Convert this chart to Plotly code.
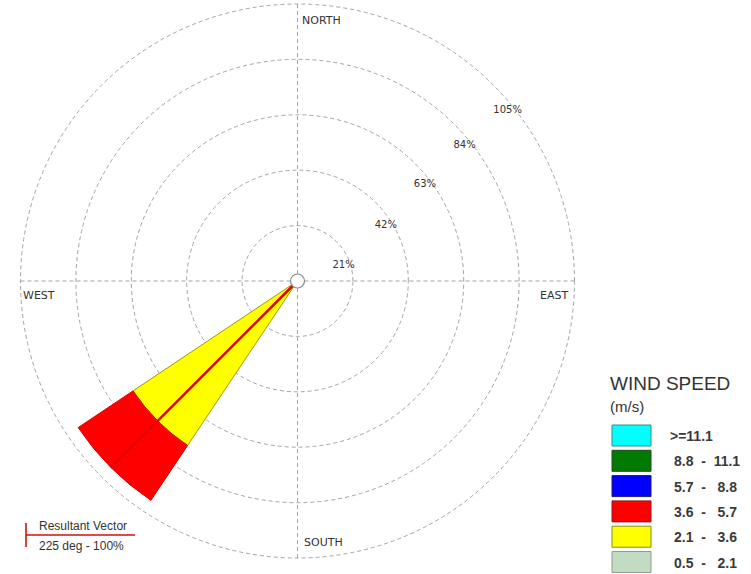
import plotly.graph_objects as go

# ---- data ----
directions = [225]                 # compass bearing of the only occupied sector (deg)
sector_width = 22.5                # 16-point wind rose sector width (deg)
speed_bins = [">=11.1", "8.8 - 11.1", "5.7 -  8.8", "3.6 -  5.7", "2.1 -  3.6", "0.5 -  2.1"]
bin_colors = ["#00FFFF", "#007A00", "#0000FF", "#FF0000", "#FFFF00", "#C2DCC4"]
bin_edges_colors = ["#3a8a8a", "#1e4a1e", "#1a1a7a", "#8a1a1a", "#8a8a1a", "#8aa08a"]
freq_2_1_3_6 = [75]                # % frequency, 2.1-3.6 m/s
freq_3_6_5_7 = [25]                # % frequency, 3.6-5.7 m/s
ring_values = [21, 42, 63, 84, 105]
ring_labels = ["21%", "42%", "63%", "84%", "105%"]
ring_label_theta = [71, 58, 53, 51, 51]
resultant_dir = 225
resultant_pct = 100
compass_labels = ["NORTH", "EAST", "SOUTH", "WEST"]

W, H = 751, 574
def px(x):
    return x / W
def py(y):
    return 1 - y / H

FONT = "Liberation Sans, Arial, sans-serif"
WIDE = "DejaVu Sans, Liberation Sans, sans-serif"
NARROW = "Liberation Sans Narrow, Liberation Sans, Arial, sans-serif"
GRID = "#a3a3ab"

fig = go.Figure()

# stacked petals (inner speed class first)
fig.add_trace(go.Barpolar(
    r=freq_2_1_3_6, theta=directions, width=[sector_width],
    marker=dict(color=bin_colors[4], line=dict(color="#9a9a10", width=1)),
    showlegend=False, hoverinfo="skip"))
fig.add_trace(go.Barpolar(
    r=freq_3_6_5_7, theta=directions, width=[sector_width],
    marker=dict(color=bin_colors[3], line=dict(color="#e00000", width=1)),
    showlegend=False, hoverinfo="skip"))

# resultant vector
fig.add_trace(go.Scatterpolar(
    r=[0, resultant_pct], theta=[resultant_dir, resultant_dir], mode="lines",
    line=dict(color="#e80000", width=2.5), showlegend=False, hoverinfo="skip"))

# calm circle at the origin
fig.add_trace(go.Scatterpolar(
    r=[0], theta=[0], mode="markers",
    marker=dict(size=14, color="white", line=dict(color="#8a8a8a", width=1.2)),
    showlegend=False, hoverinfo="skip"))

# ring percentage labels, just inside each ring
fig.add_trace(go.Scatterpolar(
    r=[v - 2.5 for v in ring_values], theta=ring_label_theta, mode="text",
    text=ring_labels, textfont=dict(family=WIDE, size=10, color="#333333"),
    showlegend=False, hoverinfo="skip"))

# polar frame: centre (297.5, 281) px, 105 % ring radius 277 px
R = 277 * 105.5 / 105
cx, cy = 297.5, 281
fig.update_layout(
    width=W, height=H,
    margin=dict(l=0, r=0, t=0, b=0),
    paper_bgcolor="white", plot_bgcolor="white",
    polar=dict(
        domain=dict(x=[px(cx - R), px(cx + R)], y=[py(cy + R), py(cy - R)]),
        bgcolor="white",
        barmode="stack",
        radialaxis=dict(range=[0, 105.5], tickvals=ring_values, showticklabels=False,
                        ticks="", showline=False, gridcolor=GRID, gridwidth=1,
                        griddash="4px,3px"),
        angularaxis=dict(direction="clockwise", rotation=90,
                         tickvals=[0, 90, 180, 270], showticklabels=False, ticks="",
                         showline=False, gridcolor=GRID, gridwidth=1,
                         griddash="4px,3px"),
    ),
)

ann = []
# compass labels
for txt, (x, y) in zip(compass_labels, [(300, 20), (538, 295), (302, 542), (21, 295)]):
    ann.append(dict(x=px(x), y=py(y), xref="paper", yref="paper", text=txt,
                    showarrow=False, xanchor="left", yanchor="middle",
                    font=dict(family=WIDE, size=11, color="#333333")))

# speed legend
ann.append(dict(x=px(608), y=py(383), xref="paper", yref="paper", text="WIND SPEED",
                showarrow=False, xanchor="left", yanchor="middle",
                font=dict(family=FONT, size=19, color="#333333")))
ann.append(dict(x=px(608), y=py(406), xref="paper", yref="paper", text="(m/s)",
                showarrow=False, xanchor="left", yanchor="middle",
                font=dict(family=FONT, size=15, color="#333333")))
shapes = []
for i, (lab, col, edge) in enumerate(zip(speed_bins, bin_colors, bin_edges_colors)):
    top = 425 + i * 25.3
    shapes.append(dict(type="rect", xref="paper", yref="paper",
                       x0=px(612), x1=px(651), y0=py(top + 21), y1=py(top),
                       fillcolor=col, line=dict(color=edge, width=1)))
    shown = lab.replace(" - ", "  -  ").replace(" ", "&nbsp;")
    ann.append(dict(x=px(668 if i == 0 else 672), y=py(top + 11), xref="paper", yref="paper",
                    text="<b>" + shown + "</b>", showarrow=False,
                    xanchor="left", yanchor="middle",
                    font=dict(family=FONT, size=14, color="#3a3a3a")))

# resultant vector key
shapes.append(dict(type="line", xref="paper", yref="paper",
                   x0=px(26), x1=px(135), y0=py(535), y1=py(535),
                   line=dict(color="#d01010", width=1.6)))
shapes.append(dict(type="line", xref="paper", yref="paper",
                   x0=px(26), x1=px(26), y0=py(523), y1=py(547),
                   line=dict(color="#d01010", width=1.6)))
ann.append(dict(x=px(37), y=py(526), xref="paper", yref="paper", text="Resultant Vector",
                showarrow=False, xanchor="left", yanchor="middle",
                font=dict(family=NARROW, size=12, color="#333333")))
ann.append(dict(x=px(37), y=py(546), xref="paper", yref="paper",
                text=f"{resultant_dir} deg - {resultant_pct}%",
                showarrow=False, xanchor="left", yanchor="middle",
                font=dict(family=NARROW, size=12, color="#333333")))

fig.update_layout(annotations=ann, shapes=shapes)
fig.write_html("out.html")
